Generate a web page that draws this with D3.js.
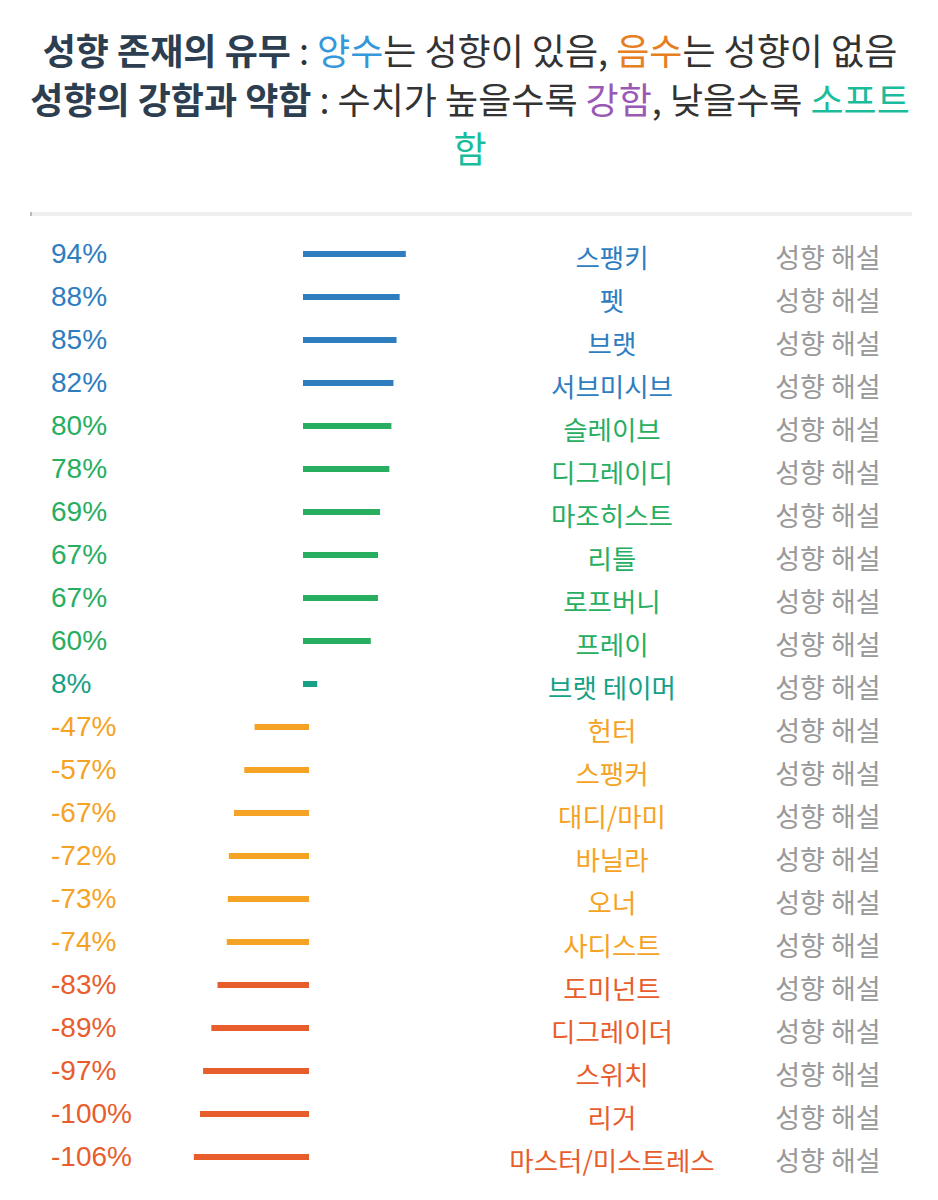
<!DOCTYPE html>
<html>
<head>
<meta charset="utf-8">
<script src="https://d3js.org/d3.v7.min.js"></script>
<style>
  body { margin: 0; background: #fff; }
  .title { font-family: "Noto Sans CJK KR", sans-serif; font-size: 36px; fill: #333; }
  .title .strong { font-weight: 700; fill: #2c3e50; }
  .pct { font-family: "Liberation Sans", Helvetica, Arial, sans-serif; font-size: 28px; }
  .name { font-family: "Noto Sans CJK KR", sans-serif; font-size: 26.5px; }
  .desc { font-family: "Noto Sans CJK KR", sans-serif; font-size: 27px; fill: #999; }
</style>
</head>
<body>
<svg width="938" height="1200"></svg>
<script>
var names = ["스팽키", "펫", "브랫", "서브미시브", "슬레이브", "디그레이디", "마조히스트", "리틀",
  "로프버니", "프레이", "브랫 테이머", "헌터", "스팽커", "대디/마미", "바닐라", "오너",
  "사디스트", "도미넌트", "디그레이더", "스위치", "리거", "마스터/미스트레스"];
var values = [94, 88, 85, 82, 80, 78, 69, 67, 67, 60, 8, -47, -57, -67, -72, -73, -74,
  -83, -89, -97, -100, -106];
var descLabel = "성향 해설";

var svg = d3.select("svg");

// title, three lines
var titleLines = [
  [["성향 존재의 유무", "strong"], [" : ", null], ["양수", "#3498db"], ["는 성향이 있음, ", null],
   ["음수", "#e67e22"], ["는 성향이 없음", null]],
  [["성향의 강함과 약함", "strong"], [" : 수치가 높을수록 ", null], ["강함", "#9b59b6"],
   [", 낮을수록 ", null], ["소프트", "#1abc9c"]],
  [["함", "#1abc9c"]]
];
var title = svg.append("text").attr("class", "title").attr("text-anchor", "middle");
titleLines.forEach(function(line, i) {
  var row = title.append("tspan").attr("x", 470).attr("y", 65 + i * 49);
  line.forEach(function(part) {
    var t = row.append("tspan").text(part[0]);
    if (part[1] == "strong") t.attr("class", "strong");
    else if (part[1]) t.style("fill", part[1]);
  });
});

// separator
svg.append("rect").attr("x", 30).attr("y", 212).attr("width", 882).attr("height", 4).attr("fill", "#efefef");
svg.append("rect").attr("x", 30).attr("y", 212).attr("width", 2).attr("height", 4).attr("fill", "#bbb");

var color = d3.scaleThreshold()
  .domain([-80, 0, 50, 81])
  .range(["#e85d2c", "#f5a324", "#16a085", "#27ae60", "#2e7dbf"]);

var x = d3.scaleLinear().domain([0, 100]).range([306, 409]);
var y = d3.scalePoint().domain(d3.range(names.length)).range([254, 1157]);

var rows = svg.append("g").selectAll("g")
  .data(values)
  .enter()
  .append("g")
  .attr("transform", function(d, i) { return "translate(0," + y(i) + ")"; });

rows.append("line")
  .attr("x1", x(0))
  .attr("x2", function(d) { return x(d); })
  .attr("stroke", function(d) { return color(d); })
  .attr("stroke-width", 6)
  .attr("stroke-linecap", "square");

rows.append("text")
  .attr("class", "pct")
  .attr("x", 51)
  .attr("dy", "0.33em")
  .attr("fill", function(d) { return color(d); })
  .text(function(d) { return d + "%"; });

rows.append("text")
  .attr("class", "name")
  .attr("x", 612)
  .attr("dy", "0.52em")
  .attr("text-anchor", "middle")
  .attr("fill", function(d) { return color(d); })
  .text(function(d, i) { return names[i]; });

rows.append("text")
  .attr("class", "desc")
  .attr("x", 828)
  .attr("dy", "0.52em")
  .attr("text-anchor", "middle")
  .text(descLabel);
</script>
</body>
</html>
